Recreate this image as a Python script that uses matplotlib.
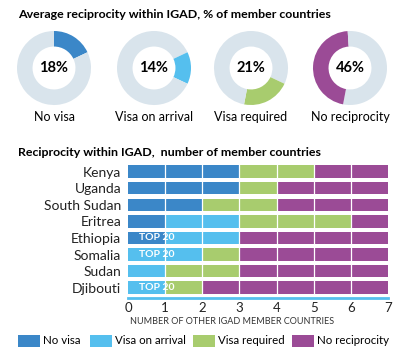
import matplotlib
matplotlib.use('Agg')
import matplotlib.pyplot as plt
from matplotlib.patches import Rectangle
import numpy as np

plt.rcParams['font.family'] = ['Lato', 'DejaVu Sans']

# Data
categories = ['No visa', 'Visa on arrival', 'Visa required', 'No reciprocity']
shares = [18, 14, 21, 46]
countries = ['Kenya', 'Uganda', 'South Sudan', 'Eritrea', 'Ethiopia',
             'Somalia', 'Sudan', 'Djibouti']
no_visa = [3, 3, 2, 1, 1, 0, 0, 0]
visa_arrival = [0, 0, 0, 2, 2, 2, 1, 1]
visa_required = [2, 1, 2, 3, 0, 1, 2, 1]
no_recip = [2, 3, 3, 1, 4, 4, 4, 5]
top20 = ['Ethiopia', 'Somalia', 'Djibouti']

colors = ['#3b87c8', '#55bfee', '#a8cc6e', '#9b4b96']
ring_bg = '#d9e4ec'

W, H = 400, 355
fig = plt.figure(figsize=(4, 3.55), dpi=100)

def fx(px):
    return px / W

def fy(py):
    return 1 - py / H

# Titles
fig.text(fx(18), fy(15), 'Average reciprocity within IGAD, % of member countries',
         fontsize=8.9, fontweight='bold', va='center', ha='left')
fig.text(fx(18), fy(153), 'Reciprocity within IGAD,  number of member countries',
         fontsize=8.9, fontweight='bold', va='center', ha='left')

# Donuts
centers = [54, 154, 251, 350]
r = 37
start = 0
for i, (cx, s) in enumerate(zip(centers, shares)):
    ax = fig.add_axes([fx(cx - r), fy(68 + r), fx(2 * r), 2 * r / H])
    ax.pie([start, s, 100 - start - s], colors=[ring_bg, colors[i], ring_bg],
           startangle=90, counterclock=False,
           wedgeprops=dict(width=0.42, linewidth=0))
    ax.set_xlim(-1, 1)
    ax.set_ylim(-1, 1)
    ax.set_aspect('equal')
    ax.text(0, 0, f'{s}%', ha='center', va='center', fontsize=10.5,
            fontweight='bold')
    fig.text(fx(cx), fy(117), categories[i], ha='center', va='center',
             fontsize=9)
    start += s

# Stacked bars
ax = fig.add_axes([fx(128), fy(298), fx(388 - 128), (298 - 160) / H])
y = np.arange(len(countries))[::-1]
left = np.zeros(len(countries))
for vals, c in zip([no_visa, visa_arrival, visa_required, no_recip], colors):
    ax.barh(y, vals, left=left, height=0.75, color=c, linewidth=0, zorder=1)
    left += np.array(vals)

for xv in range(1, 7):
    ax.axvline(xv, color='white', lw=0.9, zorder=2)

for name in top20:
    yi = y[countries.index(name)]
    ax.text(0.3, yi, 'TOP 20', color='white', fontweight='bold', fontsize=7.5,
            va='center', ha='left', zorder=3)

ax.set_xlim(0, 7)
ax.set_ylim(-0.62, 7.7)
ax.set_yticks(y)
ax.set_yticklabels(countries, fontsize=10)
ax.set_xticks(range(8))
ax.tick_params(axis='both', length=0, colors='#222222')
ax.tick_params(axis='x', labelsize=9.5, pad=3)
ax.tick_params(axis='y', pad=5)
for sp in ['top', 'right', 'left']:
    ax.spines[sp].set_visible(False)
ax.spines['bottom'].set_color('#55bfee')
ax.spines['bottom'].set_linewidth(2)
ax.set_xlabel('NUMBER OF OTHER IGAD MEMBER COUNTRIES', fontsize=6.5,
              color='#333333')
ax.xaxis.set_label_coords((232 - 128) / 260, -(322 - 298) / 138)
ax.xaxis.label.set_va('center')

# Legend drawn by hand to match spacing
leg_x = [18, 90, 193, 292]
for lx, lab, c in zip(leg_x, categories, colors):
    fig.patches.append(Rectangle((fx(lx), fy(347)), fx(22), 12 / H,
                                 transform=fig.transFigure, facecolor=c,
                                 edgecolor='none'))
    fig.text(fx(lx + 25), fy(341), lab, fontsize=8.3, va='center', ha='left')

fig.savefig('out.png', dpi=100)
